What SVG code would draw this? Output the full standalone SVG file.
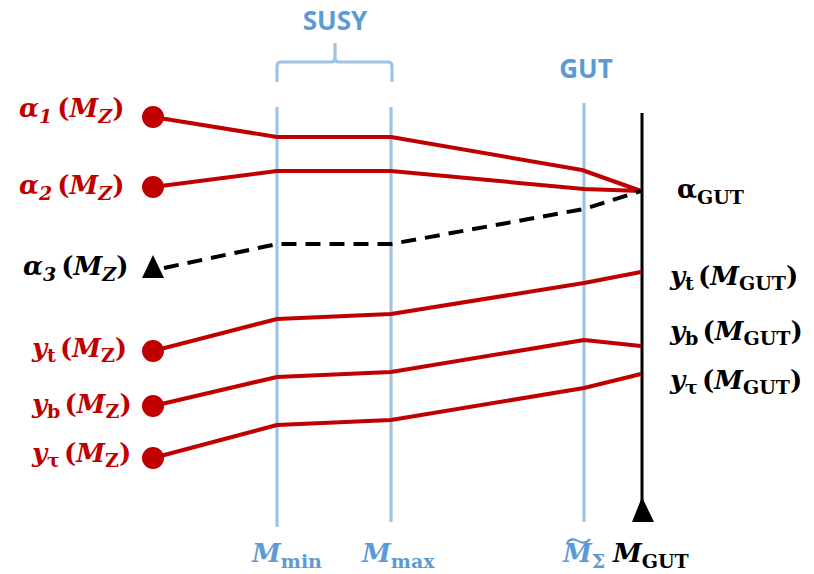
<svg xmlns="http://www.w3.org/2000/svg" width="814" height="574" viewBox="0 0 814 574">
<style>
.bl{stroke:#9dc3e6;stroke-width:3.2;fill:none}
.rd{stroke:#c00000;stroke-width:4;fill:none;stroke-linejoin:round}
.dash{stroke:#000;stroke-width:4;fill:none;stroke-dasharray:15 9}
.m{font-family:"DejaVu Serif","Liberation Serif",serif;font-weight:bold;font-style:italic;font-size:26px}
.s{font-size:19px}
.u{font-style:normal}
.red{fill:#c00000}
.blk{fill:#000}
.blu{fill:#5b9bd5}
.hd{font-family:"Open Sans","Liberation Sans",sans-serif;font-weight:bold;font-size:26px;fill:#5b9bd5;text-anchor:middle}
</style>
<g id="scales">
<line class="bl" x1="277" y1="107" x2="277" y2="527"/>
<line class="bl" x1="391" y1="107" x2="391" y2="522"/>
<line class="bl" x1="584" y1="103" x2="584" y2="522"/>
<path class="bl" d="M277,82 V66 Q277,62 281,62 H331 Q335,62 335,58 V43 M335,58 Q335,62 339,62 H388 Q392,62 392,66 V82"/>
<text class="hd" x="335" y="30">SUSY</text>
<text class="hd" x="586" y="78">GUT</text>
<line x1="642" y1="113" x2="642" y2="505" stroke="#000" stroke-width="3"/>
<polygon points="642,497 632,522 654,522" fill="#000"/>
</g>
<g id="connectors">
<polyline class="rd" points="153,117 277,137 391,137 582,170 641,191"/>
<polyline class="rd" points="153,187 277,171 391,171 584,189 641,191"/>
<polyline class="dash" points="164,268 277,244 391,244 584,209 641,191"/>
<polyline class="rd" points="153,351 277,319 391,314 584,283 641,272"/>
<polyline class="rd" points="153,406 277,377 391,372 584,340 641,346"/>
<polyline class="rd" points="153,458 277,425 391,420 584,388 641,374"/>
</g>
<g id="n-alpha1"><circle cx="153" cy="117" r="11" fill="#c00000"/>
<text class="m red" x="19" y="117">α<tspan class="s" dy="6">1</tspan><tspan class="u" dy="-6" dx="5">(</tspan>M<tspan class="s" dy="6">Z</tspan><tspan class="u" dy="-6">)</tspan></text></g>
<g id="n-alpha2"><circle cx="153" cy="187" r="11" fill="#c00000"/>
<text class="m red" x="19" y="194">α<tspan class="s" dy="6">2</tspan><tspan class="u" dy="-6" dx="5">(</tspan>M<tspan class="s" dy="6">Z</tspan><tspan class="u" dy="-6">)</tspan></text></g>
<g id="n-alpha3"><polygon points="153,255 142,278 164,278" fill="#000"/>
<text class="m blk" x="23" y="275">α<tspan class="s" dy="6">3</tspan><tspan class="u" dy="-6" dx="5">(</tspan>M<tspan class="s" dy="6">Z</tspan><tspan class="u" dy="-6">)</tspan></text></g>
<g id="n-yt"><circle cx="153" cy="351" r="11" fill="#c00000"/>
<text class="m red" x="32" y="357">y<tspan class="s u" dy="5">t</tspan><tspan class="u" dy="-5" dx="4">(</tspan>M<tspan class="s u" dy="5">Z</tspan><tspan class="u" dy="-5">)</tspan></text></g>
<g id="n-yb"><circle cx="153" cy="406" r="11" fill="#c00000"/>
<text class="m red" x="32" y="413">y<tspan class="s u" dy="5">b</tspan><tspan class="u" dy="-5" dx="4">(</tspan>M<tspan class="s u" dy="5">Z</tspan><tspan class="u" dy="-5">)</tspan></text></g>
<g id="n-ytau"><circle cx="153" cy="458" r="11" fill="#c00000"/>
<text class="m red" x="32" y="462">y<tspan class="s u" dy="5">τ</tspan><tspan class="u" dy="-5" dx="4">(</tspan>M<tspan class="s u" dy="5">Z</tspan><tspan class="u" dy="-5">)</tspan></text></g>
<g id="r-agut"><text class="m u blk" x="677" y="198">α<tspan class="s" dy="6">GUT</tspan></text></g>
<g id="r-yt"><text class="m blk" x="670" y="285">y<tspan class="s u" dy="5">t</tspan><tspan class="u" dy="-5" dx="4">(</tspan>M<tspan class="s u" dy="5">GUT</tspan><tspan class="u" dy="-5">)</tspan></text></g>
<g id="r-yb"><text class="m blk" x="670" y="340">y<tspan class="s u" dy="5">b</tspan><tspan class="u" dy="-5" dx="4">(</tspan>M<tspan class="s u" dy="5">GUT</tspan><tspan class="u" dy="-5">)</tspan></text></g>
<g id="r-ytau"><text class="m blk" x="670" y="389">y<tspan class="s u" dy="5">τ</tspan><tspan class="u" dy="-5" dx="4">(</tspan>M<tspan class="s u" dy="5">GUT</tspan><tspan class="u" dy="-5">)</tspan></text></g>
<g id="b-min"><text class="m blu" x="252" y="562">M<tspan class="s u" dy="6">min</tspan></text></g>
<g id="b-max"><text class="m blu" x="362" y="562">M<tspan class="s u" dy="6">max</tspan></text></g>
<g id="b-msig"><text class="m blu" x="563" y="562">M<tspan class="s u" dy="6">Σ</tspan></text>
<path d="M567,543 Q571,537 578,541 T590,539" stroke="#5b9bd5" stroke-width="2" fill="none"/></g>
<g id="b-mgut"><text class="m blk" x="613" y="562">M<tspan class="s u" dy="6">GUT</tspan></text></g>
</svg>
